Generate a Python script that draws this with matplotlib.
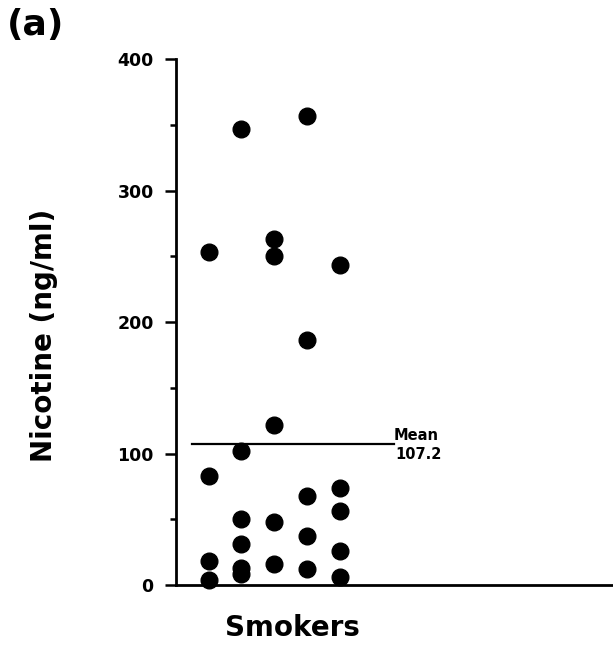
import numpy as np
import matplotlib
matplotlib.use('Agg')
import matplotlib.pyplot as plt
from matplotlib.ticker import MultipleLocator

plt.rcParams['font.family'] = ['DejaVu Sans']

# nicotine values (ng/ml), one list per dot column
col1 = [253, 83, 18, 4]
col2 = [347, 102, 50, 31, 13, 8]
col3 = [263, 250, 122, 48, 16]
col4 = [357, 186, 68, 37, 12]
col5 = [243, 74, 56, 26, 6]
columns = [col1, col2, col3, col4, col5]
mean_value = 107.2
group_label = 'Smokers'
y_label = 'Nicotine (ng/ml)'
panel_label = '(a)'

fig = plt.figure(figsize=(6.13, 6.45), dpi=100)
ax = fig.add_axes([0.287, 0.093, 0.711, 0.8155])

for i, vals in enumerate(columns):
    ax.plot(np.full(len(vals), i + 1), vals, 'o', color='black',
            markersize=12, clip_on=False, zorder=3)

# mean line and its label
ax.plot([0.5, 6.66], [mean_value, mean_value], color='black', lw=1.6)
ax.text(6.64, mean_value + 1, 'Mean', fontsize=10.5, fontweight='bold',
        ha='left', va='bottom')
ax.text(6.7, mean_value - 2, '%.1f' % mean_value, fontsize=10.5,
        fontweight='bold', ha='left', va='top')

ax.set_xlim(0, 13.3)
ax.set_ylim(0, 400)
ax.yaxis.set_major_locator(MultipleLocator(100))
ax.yaxis.set_minor_locator(MultipleLocator(50))
ax.set_xticks([])
ax.tick_params(axis='y', which='major', length=8, width=1.8, pad=8,
               labelsize=12.5)
ax.tick_params(axis='y', which='minor', length=4, width=1.8)
for lbl in ax.get_yticklabels():
    lbl.set_fontweight('bold')

ax.spines['top'].set_visible(False)
ax.spines['right'].set_visible(False)
ax.spines['left'].set_linewidth(2)
ax.spines['bottom'].set_linewidth(2)

fig.text(0.072, 0.48, y_label, rotation=90, fontsize=20, fontweight='bold',
         ha='center', va='center')
fig.text(0.477, 0.027, group_label, fontsize=20, fontweight='bold',
         ha='center', va='center')
fig.text(0.012, 0.962, panel_label, fontsize=26, fontweight='bold',
         ha='left', va='center')

fig.savefig('out.png', dpi=100)
